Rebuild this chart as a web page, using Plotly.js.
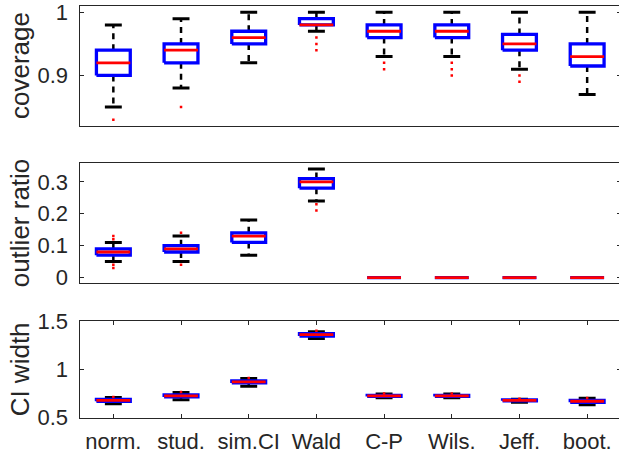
<!DOCTYPE html>
<html>
<head>
<meta charset="utf-8">
<script src="https://cdn.plot.ly/plotly-3.0.1.min.js"></script>
<style>
html, body { margin: 0; padding: 0; overflow: hidden; background: #fff; }
#chart { width: 622px; height: 456px; }
</style>
</head>
<body>
<div id="chart"></div>
<script>
// ---- data ----
const categories = ['norm.', 'stud.', 'sim.CI', 'Wald', 'C-P', 'Wils.', 'Jeff.', 'boot.'];
const yTitles = ['coverage', 'outlier ratio', 'CI width'];

// coverage
const covLower = [0.85, 0.88, 0.92, 0.97, 0.93, 0.93, 0.91, 0.87];
const covQ1    = [0.90, 0.92, 0.95, 0.98, 0.96, 0.96, 0.94, 0.915];
const covMed   = [0.92, 0.94, 0.96, 0.98, 0.97, 0.97, 0.95, 0.93];
const covQ3    = [0.94, 0.95, 0.97, 0.99, 0.98, 0.98, 0.965, 0.95];
const covUpper = [0.98, 0.99, 1.00, 1.00, 1.00, 1.00, 1.00, 1.00];
const covOut   = [[0.83], [0.85], [], [0.96, 0.95, 0.94], [0.92, 0.91], [0.92, 0.91, 0.90], [0.90, 0.89], []];

// outlier ratio
const orLower = [0.05, 0.05, 0.07, 0.24, 0, 0, 0, 0];
const orQ1    = [0.07, 0.08, 0.11, 0.28, 0, 0, 0, 0];
const orMed   = [0.08, 0.09, 0.13, 0.30, 0, 0, 0, 0];
const orQ3    = [0.09, 0.10, 0.14, 0.31, 0, 0, 0, 0];
const orUpper = [0.11, 0.13, 0.18, 0.34, 0, 0, 0, 0];
const orOut   = [[0.12, 0.13, 0.04, 0.03], [0.14, 0.04], [], [0.23, 0.21], [], [], [], []];

// CI width
const ciLower = [0.645, 0.685, 0.825, 1.32, 0.707, 0.707, 0.66, 0.635];
const ciQ1    = [0.67, 0.715, 0.86, 1.345, 0.72, 0.72, 0.675, 0.66];
const ciMed   = [0.68, 0.725, 0.87, 1.36, 0.725, 0.725, 0.68, 0.67];
const ciQ3    = [0.69, 0.735, 0.88, 1.37, 0.73, 0.73, 0.685, 0.68];
const ciUpper = [0.71, 0.76, 0.905, 1.39, 0.745, 0.745, 0.69, 0.70];
const ciOut   = [[0.715], [0.765], [0.91], [1.40], [0.75], [0.75], [0.695], [0.705]];

// ---- styling ----
const BOX_HALF = 0.25, CAP_HALF = 0.125;
const TXT = '#262626';
const FONT = 'Liberation Sans, Arial, sans-serif';

function boxTraces(lower, q1, med, q3, upper, outs, xa, ya) {
  const wx = [], wy = [], cx = [], cy = [], bx = [], by = [], mx = [], my = [], ox = [], oy = [];
  categories.forEach((c, k) => {
    const i = k + 1;
    wx.push(i, i, null, i, i, null);
    wy.push(q3[k], upper[k], null, q1[k], lower[k], null);
    cx.push(i - CAP_HALF, i + CAP_HALF, null, i - CAP_HALF, i + CAP_HALF, null);
    cy.push(upper[k], upper[k], null, lower[k], lower[k], null);
    bx.push(i - BOX_HALF, i + BOX_HALF, i + BOX_HALF, i - BOX_HALF, i - BOX_HALF, null);
    by.push(q1[k], q1[k], q3[k], q3[k], q1[k], null);
    mx.push(i - BOX_HALF, i + BOX_HALF, null);
    my.push(med[k], med[k], null);
    outs[k].forEach(v => { ox.push(i); oy.push(v); });
  });
  const base = { type: 'scatter', mode: 'lines', xaxis: xa, yaxis: ya, hoverinfo: 'skip', showlegend: false, connectgaps: false };
  return [
    Object.assign({}, base, { x: wx, y: wy, line: { color: '#000', width: 2.5, dash: '6px,5px' } }),
    Object.assign({}, base, { x: cx, y: cy, line: { color: '#000', width: 3 } }),
    Object.assign({}, base, { x: bx, y: by, line: { color: '#0000ff', width: 3.3 } }),
    Object.assign({}, base, { x: mx, y: my, line: { color: '#ff0000', width: 2.8 } }),
    Object.assign({}, base, { x: ox, y: oy, mode: 'markers', marker: { color: '#ff0000', symbol: 'square', size: 2.5, line: { width: 0 } } })
  ];
}

const data = [].concat(
  boxTraces(covLower, covQ1, covMed, covQ3, covUpper, covOut, 'x', 'y'),
  boxTraces(orLower, orQ1, orMed, orQ3, orUpper, orOut, 'x2', 'y2'),
  boxTraces(ciLower, ciQ1, ciMed, ciQ3, ciUpper, ciOut, 'x3', 'y3')
);

const W = 622, H = 456;
const xDom = [79.5 / W, 621 / W];
const tickVals = categories.map((c, k) => k + 1);
const TICK_SIZE = 22, TITLE_SIZE = 26;

function xAxis(anchor, showLabels) {
  return {
    domain: xDom, anchor: anchor, range: [0.5, 8.5],
    tickvals: tickVals, ticktext: categories,
    showticklabels: showLabels, ticks: showLabels ? 'inside' : '', ticklen: 4, tickcolor: TXT,
    showline: true, linecolor: TXT, linewidth: 1, mirror: showLabels ? 'ticks' : true,
    showgrid: false, zeroline: false, automargin: false,
    tickfont: { family: FONT, size: TICK_SIZE, color: TXT }, ticklabelstandoff: 4
  };
}
function yAxis(anchor, dom, range, tv, tt) {
  return {
    domain: dom, anchor: anchor, range: range,
    tickvals: tv, ticktext: tt,
    ticks: 'inside', ticklen: 4, tickcolor: TXT,
    showline: true, linecolor: TXT, linewidth: 1, mirror: 'ticks',
    showgrid: false, zeroline: false, automargin: false,
    tickfont: { family: FONT, size: TICK_SIZE, color: TXT }, ticklabelstandoff: 6
  };
}

const doms = [[1 - 126 / H, 1 - 6 / H], [1 - 283.3 / H, 1 - 163.3 / H], [1 - 417.7 / H, 1 - 321 / H]];

const layout = {
  width: W, height: H,
  margin: { l: 0, r: 0, t: 0, b: 0 },
  paper_bgcolor: '#fff', plot_bgcolor: '#fff',
  showlegend: false,
  xaxis: xAxis('y', false),
  xaxis2: xAxis('y2', false),
  xaxis3: xAxis('y3', true),
  yaxis: yAxis('x', doms[0], [0.82, 1.01], [0.9, 1], ['0.9', '1']),
  yaxis2: yAxis('x2', doms[1], [-0.018, 0.358], [0, 0.1, 0.2, 0.3], ['0', '0.1', '0.2', '0.3']),
  yaxis3: yAxis('x3', doms[2], [0.5, 1.5], [0.5, 1, 1.5], ['0.5', '1', '1.5']),
  annotations: yTitles.map((t, k) => ({
    text: t, textangle: -90, showarrow: false,
    xref: 'paper', yref: 'paper', x: 20 / W, y: (doms[k][0] + doms[k][1]) / 2,
    xanchor: 'center', yanchor: 'middle',
    font: { family: FONT, size: TITLE_SIZE, color: TXT }
  }))
};

Plotly.newPlot('chart', data, layout, { displayModeBar: false, staticPlot: true });
</script>
</body>
</html>
